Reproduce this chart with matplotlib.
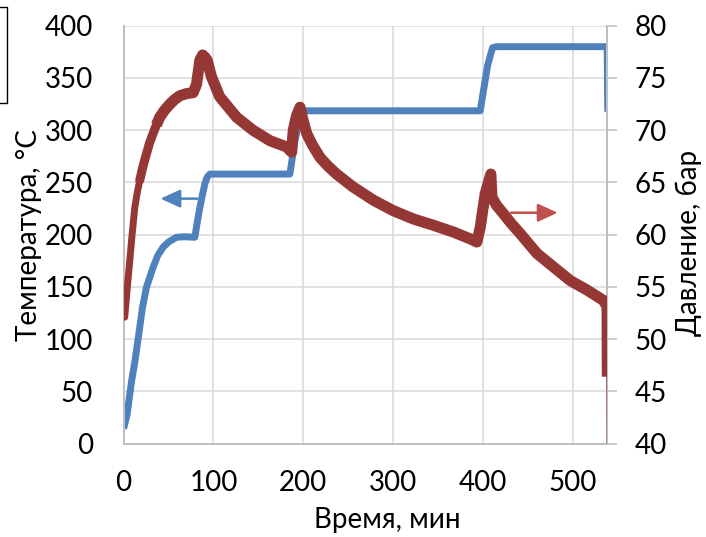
import matplotlib
matplotlib.use("Agg")
import matplotlib.pyplot as plt
from matplotlib.patches import Rectangle

plt.rcParams['font.family'] = ['Lato', 'DejaVu Sans']

# Temperature series (left axis)
temp_time = [1, 4, 6.5, 9, 12.5, 17.5, 21, 25.5, 32.9, 38, 44, 50, 58.9, 68, 79.3, 82, 84.9,
             88, 90.4, 93, 96, 120, 150, 185, 190.7, 194.5, 198.2, 202, 250, 300, 350, 396.8,
             400.4, 405, 410.5, 415, 450, 500, 538, 538.6]
temp_vals = [17.5, 28, 44.6, 60, 78, 108, 130, 149.7, 168.8, 180, 188, 193, 197.5, 198, 197.5,
             212, 226, 239, 248.6, 255, 258, 258, 258, 258, 290, 305, 317, 318.6, 318.6, 318.6,
             318.6, 318.6, 337.8, 362, 379, 380, 380, 380, 380, 321]

# Pressure series (right axis)
pres_time = [1.3, 4, 6.9, 9.5, 12.5, 15, 18, 21.5, 25.5, 29, 32.9, 36.5, 40.3, 45.5, 51.5, 57,
             62.6, 70, 77.4, 81.2, 84.9, 87.9, 90.5, 93, 97.9, 107, 125.7, 144, 162.8, 181.4,
             187, 188.8, 192.5, 196.3, 199.5, 203.7, 210, 218.5, 227, 237, 255.6, 278, 300,
             322.5, 344.7, 367, 385.6, 393, 396.8, 402.3, 408.6, 409.8, 415, 422.7, 431, 441.3,
             459.9, 478.4, 497, 515.6, 534, 537.9, 538.2]
pres_vals = [52.1, 54.8, 57.5, 60.0, 62.6, 63.9, 65.2, 66.5, 67.75, 68.8, 69.7, 70.5, 71.25,
             71.9, 72.5, 72.95, 73.3, 73.5, 73.6, 74.4, 76.7, 77.2, 77.0, 76.7, 75.1, 73.2,
             71.25, 70.0, 69.0, 68.4, 67.9, 70.0, 71.4, 72.2, 71.0, 69.7, 68.6, 67.4, 66.6,
             65.8, 64.55, 63.3, 62.3, 61.5, 60.9, 60.25, 59.6, 59.3, 60.7, 63.9, 65.8, 63.6,
             62.8, 62.0, 61.1, 60.1, 58.2, 56.9, 55.6, 54.7, 53.7, 53.1, 46.4]
pres_tail_time = [538.2, 538.6]
pres_tail_vals = [46.4, 40.0]

x_ticks = [0, 100, 200, 300, 400, 500]
t_ticks = [0, 50, 100, 150, 200, 250, 300, 350, 400]
p_ticks = [40, 45, 50, 55, 60, 65, 70, 75, 80]

BLUE = '#4F81BD'
RED = '#953735'
RED_ARROW = '#C0504D'
GRID = '#D9D9D9'
AXC = '#BFBFBF'
FS = 20

fig = plt.figure(figsize=(7.06, 5.37), dpi=100)
ax = fig.add_axes([0.175, 0.174, 0.685, 0.778])
ax2 = ax.twinx()

ax.set_xlim(0, 538)
ax.set_ylim(0, 400)
ax2.set_ylim(40, 80)
ax.set_xticks(x_ticks)
ax.set_yticks(t_ticks)
ax2.set_yticks(p_ticks)

ax.grid(True, color=GRID, linewidth=1.1)
ax.set_axisbelow(True)

for a in (ax, ax2):
    a.spines['top'].set_visible(False)
    for s in ('left', 'bottom', 'right'):
        a.spines[s].set_color(AXC)
        a.spines[s].set_linewidth(1.3)

ax.tick_params(axis='y', length=0, pad=22, labelsize=FS)
ax.tick_params(axis='x', length=0, pad=19, labelsize=FS)
ax2.tick_params(axis='y', length=7, width=1.1, color=AXC, pad=13, labelsize=FS, direction='out')

ax.plot(temp_time, temp_vals, color=BLUE, linewidth=5, solid_joinstyle='round', zorder=2)

# the pressure trace gets thicker (noisier) after the initial rise
ax2.plot(pres_time[:7], pres_vals[:7], color=RED, linewidth=5,
         solid_joinstyle='round', solid_capstyle='round', zorder=3)
ax2.plot(pres_time[6:12], pres_vals[6:12], color=RED, linewidth=6.5,
         solid_joinstyle='round', solid_capstyle='round', zorder=3)
ax2.plot(pres_time[11:], pres_vals[11:], color=RED, linewidth=8,
         solid_joinstyle='round', solid_capstyle='butt', zorder=3)
ax2.plot(pres_tail_time, pres_tail_vals, color=RED, linewidth=1.4, zorder=3)

ax.set_ylabel('Температура, °C', fontsize=FS)
ax.yaxis.set_label_coords(-0.168, 0.5)
ax2.set_ylabel('Давление, бар', fontsize=FS, rotation=90)
ax2.yaxis.set_label_coords(1.141, 0.48)
ax.set_xlabel('Время, мин', fontsize=FS)
ax.xaxis.set_label_coords(0.545, -0.152)

# arrows
ax.annotate('', xy=(38, 234.5), xytext=(85, 234.5),
            arrowprops=dict(arrowstyle='-|>,head_length=1.2,head_width=0.55', color=BLUE, lw=1.8))
ax.annotate('', xy=(486, 221), xytext=(428, 221),
            arrowprops=dict(arrowstyle='-|>,head_length=1.2,head_width=0.55', color=RED_ARROW, lw=1.8))

# partial box at the top-left corner
fig.patches.append(Rectangle((-0.01, 1 - 103 / 537), 0.0199, 96 / 537,
                             transform=fig.transFigure, fill=False, edgecolor='black',
                             linewidth=1.0))

fig.savefig('out.png', dpi=100)
